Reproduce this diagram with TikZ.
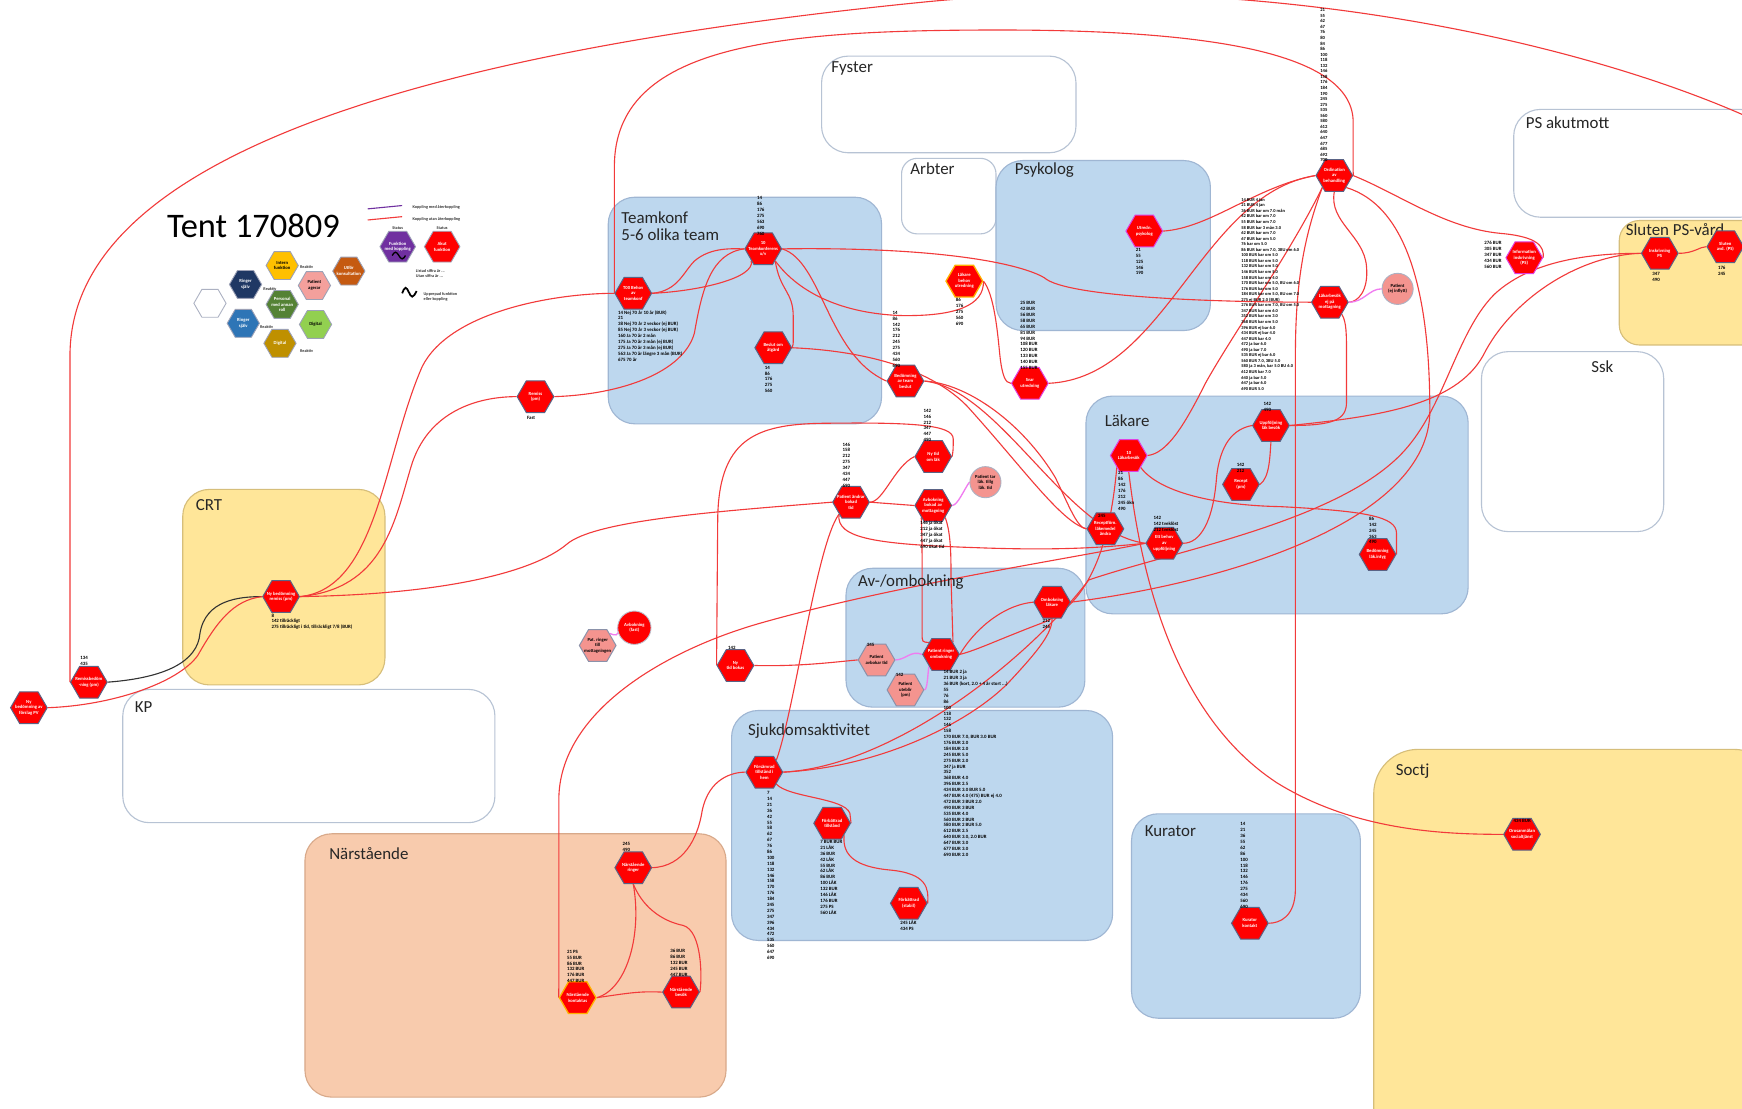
\documentclass[tikz,border=0pt]{standalone}
\usepackage{fontspec}
\setmainfont{Carlito}
\usetikzlibrary{shapes.geometric}
\definecolor{hred}{HTML}{FF0000}
\definecolor{hedge}{HTML}{5A6385}
\definecolor{lred}{HTML}{F23A3A}
\definecolor{bluefill}{HTML}{BDD7EE}
\definecolor{blueedge}{HTML}{9FB6D3}
\definecolor{yelfill}{HTML}{FFE699}
\definecolor{yeledge}{HTML}{D6BE7A}
\definecolor{peachfill}{HTML}{F8CBAD}
\definecolor{peachedge}{HTML}{D8A98A}
\definecolor{grayedge}{HTML}{B7C3D4}
\definecolor{salmon}{HTML}{F4948F}
\definecolor{pinkline}{HTML}{F07CF0}
\definecolor{pinkedge}{HTML}{E040E0}
\definecolor{orangeedge}{HTML}{FFB000}
\definecolor{lgnavy}{HTML}{1F3864}
\definecolor{lgyellow}{HTML}{FFC000}
\definecolor{lgsalmon}{HTML}{F4A09C}
\definecolor{lgorange}{HTML}{C55A11}
\definecolor{lggreen}{HTML}{548235}
\definecolor{lgblue}{HTML}{2E75B6}
\definecolor{lglime}{HTML}{92D050}
\definecolor{lggold}{HTML}{BF9000}
\definecolor{lgpurple}{HTML}{7030A0}
\pgfdeclarelayer{boxes}
\pgfdeclarelayer{wires}
\pgfsetlayers{boxes,wires,main}
\tikzset{
  area/.style={rectangle, rounded corners=12pt, anchor=north west, inner sep=0pt, line width=0.5pt},
  bluearea/.style={area, fill=bluefill, draw=blueedge},
  yelarea/.style={area, fill=yelfill, draw=yeledge},
  peacharea/.style={area, fill=peachfill, draw=peachedge},
  whitearea/.style={area, fill=white, draw=grayedge},
  arealab/.style={font=\fontsize{7.6}{9}\selectfont, text=black!85, anchor=west, inner sep=0pt, align=left},
  hexr/.style={regular polygon, regular polygon sides=6, minimum size=16.5pt, inner sep=0pt, fill=hred, draw=hedge, line width=0.45pt},
  hexpink/.style={hexr, draw=pinkedge},
  hexorange/.style={hexr, draw=orangeedge, line width=0.6pt},
  hexsal/.style={hexr, fill=salmon, draw=hedge!70},
  hexlg/.style={regular polygon, regular polygon sides=6, minimum size=14.5pt, inner sep=0pt, draw=hedge!60, line width=0.4pt},
  hlab/.style={font=\fontsize{2.1}{2.5}\selectfont\bfseries, text=white, align=center, inner sep=0pt},
  hlabk/.style={hlab, text=black},
  nums/.style={font=\fontsize{2.2}{2.65}\selectfont\bfseries, align=left, inner sep=0pt, text=black},
  bignums/.style={font=\fontsize{2.0}{2.5}\selectfont\bfseries, align=left, inner sep=0pt, text=black},
  link/.style={draw=lred, line width=0.5pt},
  blacklink/.style={draw=black!80, line width=0.5pt},
  pinklink/.style={draw=pinkline, line width=0.6pt},
  tinyk/.style={font=\fontsize{1.9}{2.3}\selectfont\bfseries, inner sep=0pt, align=left, text=black!80},
}
\begin{document}
\begin{tikzpicture}[x=0.5pt,y=-0.5pt]
\useasboundingbox (0,0) rectangle (1568,998);

% ---------------- areas ----------------
\begin{pgfonlayer}{boxes}
\fill[white] (0,0) rectangle (1568,998);
\node[whitearea, minimum width=114.5pt, minimum height=43.5pt] (fyster) at (739,50) {};
\node[whitearea, minimum width=114pt, minimum height=48.5pt] (psakut) at (1362,98) {};
\node[whitearea, rounded corners=7pt, minimum width=42.5pt, minimum height=34pt] (arbter) at (811,142) {};
\node[bluearea, minimum width=96.5pt, minimum height=76.5pt] (psykolog) at (896,144) {};
\node[bluearea, minimum width=123pt, minimum height=102pt] (teamkonf) at (547,177) {};
\node[yelarea, rounded corners=9pt, minimum width=71.5pt, minimum height=56pt] (sluten) at (1457,198) {};
\node[whitearea, minimum width=82pt, minimum height=81pt] (ssk) at (1333,316) {};
\node[bluearea, minimum width=172pt, minimum height=98pt] (lakare) at (977,356) {};
\node[yelarea, minimum width=91pt, minimum height=88pt] (crt) at (164,440) {};
\node[whitearea, minimum width=167.5pt, minimum height=60pt] (kp) at (110,620) {};
\node[bluearea, minimum width=107.5pt, minimum height=62.5pt] (avomb) at (761,511) {};
\node[bluearea, minimum width=171.5pt, minimum height=103.5pt] (sjukdom) at (658,639) {};
\node[bluearea, minimum width=103pt, minimum height=92pt] (kurator) at (1018,732) {};
\node[peacharea, minimum width=189.5pt, minimum height=118.5pt] (narst) at (274,750) {};
\node[yelarea, rounded corners=20pt, minimum width=182pt, minimum height=183pt] (soctj) at (1236,674) {};
\end{pgfonlayer}

\node[arealab] (fysterL) at (748,62) {Fyster};
\node[arealab] (psakutL) at (1373,110) {PS akutmott};
\node[arealab] (arbterL) at (819,152) {Arbter};
\node[arealab] (psykologL) at (913,153) {Psykolog};
\node[arealab] (teamkonfL) at (559,196) {Teamkonf};
\node[arealab] (teamkonfL2) at (559,211) {5-6 olika team};
\node[arealab] (slutenL) at (1463,207) {Sluten PS-vård};
\node[arealab] (sskL) at (1432,330) {Ssk};
\node[arealab] (lakareL) at (994,379) {Läkare};
\node[arealab] (crtL) at (176,455) {CRT};
\node[arealab] (kpL) at (121,636) {KP};
\node[arealab] (avombL) at (772,524) {Av-/ombokning};
\node[arealab] (sjukdomL) at (673,658) {Sjukdomsaktivitet};
\node[arealab] (kuratorL) at (1030,748) {Kurator};
\node[arealab] (narstL) at (296,768) {Närstående};
\node[arealab] (soctjL) at (1256,694) {Soctj};

% ---------------- title and legend ----------------
\node[font=\fontsize{15.5}{18}\selectfont, anchor=west, inner sep=0pt] (title) at (150,203) {Tent 170809};

\coordinate (lgA1) at (331,188); \coordinate (lgA2) at (362,185);
\coordinate (lgB1) at (331,198); \coordinate (lgB2) at (362,195);
\draw[draw=lgpurple, line width=0.5pt] (lgA1) -- (lgA2);
\draw[link] (lgB1) -- (lgB2);
\node[tinyk, anchor=west] (lgAt) at (371,187) {Koppling med återkoppling};
\node[tinyk, anchor=west] (lgBt) at (371,197) {Koppling utan återkoppling};
\node[tinyk] (lgst1) at (358,205) {Status};
\node[tinyk] (lgst2) at (398,205) {Status};
\node[hexlg, minimum size=16pt, fill=lgpurple, label={[hlab]center:{Funktion\\med koppling}}] (lgpur) at (358,222) {};
\node[hexlg, minimum size=16pt, fill=hred, label={[hlab]center:{Akut\\funktion}}] (lgred) at (398,222) {};
\draw[black, line width=0.6pt] (353,230) sin (356,227) cos (359,230) sin (362,233) cos (365,230);
\node[tinyk, anchor=west] (lgt1) at (374,246) {Listad siffra är ...\\Utan siffra är ...};
\draw[black, line width=0.8pt] (362,264) sin (365,259) cos (368,263) sin (371,267) cos (375,262);
\node[tinyk, anchor=west] (lgt2) at (381,267) {Upprepad funktion\\eller koppling};

\node[hexlg, fill=white, draw=hedge!50] (lgw) at (189,273) {};
\node[hexlg, fill=lgnavy, label={[hlab]center:{Ringer\\själv}}] (lgn) at (221,256) {};
\node[hexlg, fill=lgyellow, label={[hlabk]center:{Intern\\funktion}}] (lgy) at (254,239) {};
\node[hexlg, fill=lgsalmon, label={[hlabk]center:{Patient\\agerar}}] (lgs) at (283,257) {};
\node[hexlg, fill=lgorange, label={[hlab]center:{Utför\\konsultation}}] (lgo) at (314,244) {};
\node[hexlg, fill=lggreen, label={[hlab]center:{Personal\\med annan\\roll}}] (lgg) at (254,274) {};
\node[hexlg, fill=lgblue, label={[hlab]center:{Ringer\\själv}}] (lgb) at (219,291) {};
\node[hexlg, fill=lglime, label={[hlabk]center:{Digital}}] (lgl) at (284,292) {};
\node[hexlg, fill=lggold, label={[hlab]center:{Digital}}] (lgd) at (252,309) {};
\node[tinyk] (lgr1) at (276,240) {Reaktiv};
\node[tinyk] (lgr2) at (243,260) {Reaktiv};
\node[tinyk] (lgr3) at (240,294) {Reaktiv};
\node[tinyk] (lgr4) at (276,316) {Reaktiv};

% ---------------- functions ----------------
\node[hexr, label={[hlab]center:{10\\Teamkonferens\\x/v}}] (h1) at (687,224) {};
\node[hexr, label={[hlab]center:{T00 Behov\\av\\teamkonf}}] (h2) at (570,264) {};
\node[hexr, label={[hlab]center:{Beslut om\\åtgärd}}] (h3) at (696,313) {};
\node[hexr, label={[hlab]center:{Bedömning\\av team\\beslut}}] (h4) at (815,343) {};
\node[hexr, label={[hlab]center:{Remiss\\(pm)}}] (h5) at (482,357) {};
\node[hexpink, label={[hlab]center:{Utredn.\\psykolog}}] (h6) at (1030,208) {};
\node[hexpink, label={[hlab]center:{Svar\\utredning}}] (h7) at (927,345) {};
\node[hexorange, label={[hlab]center:{Läkare\\behov\\utredning}}] (h8) at (868,253) {};
\node[hexr, label={[hlab]center:{Ordination\\av\\behandling}}] (h9) at (1201,158) {};
\node[hexr, label={[hlab]center:{Läkarbesök\\ej på\\mottagning}}] (h10) at (1197,272) {};
\node[circle, fill=salmon, draw=hedge!50, line width=0.4pt, minimum size=14pt, inner sep=0pt, label={[hlabk]center:{Patient\\(ej inflytt)}}] (h11) at (1258,260) {};
\node[hexpink, label={[hlab]center:{Information\\inskrivning\\(PS)}}] (h12) at (1372,232) {};
\node[hexr, label={[hlab]center:{Inskrivning\\PS}}] (h13) at (1494,228) {};
\node[hexr, label={[hlab]center:{Sluten\\avd. (PS)}}] (h14) at (1553,222) {};
\node[hexr, label={[hlab]center:{Uppföljning\\läk besök}}] (h15) at (1144,383) {};
\node[hexpink, label={[hlab]center:{10\\Läkarbesök}}] (h16) at (1016,410) {};
\node[hexr, label={[hlab]center:{Recept\\(pm)}}] (h17) at (1117,436) {};
\node[hexr, label={[hlab]center:{Receptförn.\\läkemedel\\ändra}}] (h18) at (995,476) {};
\node[hexr, label={[hlab]center:{Ett behov\\av\\uppföljning}}] (h19) at (1048,489) {};
\node[hexr, label={[hlab]center:{Bedömning\\läk.intyg}}] (h20) at (1240,499) {};
\node[hexr, label={[hlab]center:{Ny tid\\om läk}}] (h21) at (840,411) {};
\node[hexr, label={[hlab]center:{Patient ändrar\\bokad\\tid}}] (h22) at (766,452) {};
\node[hexr, label={[hlab]center:{Avbokning\\bokad av\\mottagning}}] (h23) at (840,455) {};
\node[circle, fill=salmon, draw=hedge!50, line width=0.4pt, minimum size=14pt, inner sep=0pt, label={[hlabk]center:{Patient tar\\läk. tillg\\läk. tid}}] (h24) at (887,434) {};
\node[hexr, label={[hlab]center:{Ombokning\\läkare}}] (h25) at (947,542) {};
\node[hexr, label={[hlab]center:{Patient ringer\\ombokning}}] (h26) at (847,589) {};
\node[hexsal, label={[hlabk]center:{Patient\\avbokar tid}}] (h27) at (789,594) {};
\node[hexsal, label={[hlabk]center:{Patient\\uteblir\\(pm)}}] (h28) at (815,621) {};
\node[hexr, label={[hlab]center:{Ny\\tid bokas}}] (h29) at (662,599) {};
\node[circle, fill=hred, draw=hedge!40, line width=0.4pt, minimum size=15pt, inner sep=0pt, label={[hlab]center:{Avbokning\\(fast)}}] (h30) at (571,565) {};
\node[hexsal, label={[hlabk]center:{Pat. ringer\\till\\mottagningen}}] (h31) at (538,581) {};
\node[hexr, label={[hlab]center:{Ny bedömning\\remiss (pm)}}] (h32) at (253,537) {};
\node[hexr, label={[hlab]center:{Remissbedöm\\-ning (pm)}}] (h33) at (80,614) {};
\node[hexr, label={[hlab]center:{Ny\\bedömning av\\förslag PV}}] (h34) at (26,637) {};
\node[hexr, label={[hlab]center:{Försämrad\\tillstånd i\\hem}}] (h35) at (688,695) {};
\node[hexr, label={[hlab]center:{Förbättrad\\tillstånd}}] (h36) at (749,741) {};
\node[hexr, label={[hlab]center:{Förbättrad\\(stabil)}}] (h37) at (818,813) {};
\node[hexr, label={[hlab]center:{Närstående\\ringer}}] (h38) at (570,781) {};
\node[hexorange, label={[hlab]center:{Närstående\\kontaktas}}] (h39) at (520,898) {};
\node[hexr, label={[hlab]center:{Närstående\\besök}}] (h40) at (613,893) {};
\node[hexr, label={[hlab]center:{Kurator\\kontakt}}] (h41) at (1125,831) {};
\node[hexr, label={[hlab]center:{Orosanmälan\\socialtjänst}}] (h42) at (1370,751) {};

\coordinate (arcend) at (1592,114);

% ---------------- connectors ----------------
\begin{pgfonlayer}{wires}
% long arcs over the top
\draw[link] (h33.west) .. controls (63,612) and (63,605) .. (63,590) -- (63,320) .. controls (63,150) and (350,50) .. (830,2) .. controls (1150,-30) and (1450,45) .. (arcend);
\draw[link] (h2.west) .. controls (553,264) and (553,258) .. (553,245) -- (553,150) .. controls (553,40) and (700,27) .. (900,27) .. controls (1100,27) and (1218,50) .. (1218,110) -- (1218,140) .. controls (1218,150) .. (h9.east);
% CRT
\draw[blacklink] (h33.east) .. controls (150,610) and (178,595) .. (180,570) .. controls (185,540) and (215,537) .. (h32.west);
\draw[link] (h34.east) .. controls (100,635) and (160,615) .. (178,590) .. controls (195,560) and (210,540) .. (h32.west);
\draw[link] (h32.east) .. controls (340,530) and (345,410) .. (380,330) .. controls (405,280) and (500,264) .. (h2.west);
\draw[link] (h32.east) .. controls (345,530) and (355,470) .. (370,420) .. controls (385,370) and (430,357) .. (h5.west);
\draw[link] (h32.east) .. controls (400,535) and (480,515) .. (510,490) .. controls (535,468) and (650,460) .. (h22.west);
% Teamkonf
\draw[link] (h5.east) .. controls (560,355) and (615,335) .. (625,300) .. controls (632,260) and (640,228) .. (h1.west);
\draw[link] (h2.east) .. controls (610,262) and (615,245) .. (625,235) .. controls (640,222) and (660,224) .. (h1.west);
\draw[link] (h2.east) .. controls (630,262) and (680,250) .. (h1.south west);
\draw[link] (h1.east) .. controls (850,222) and (920,238) .. (940,250) .. controls (960,268) and (1100,272) .. (h10.west);
\draw[link] (h1.south east) .. controls (702,262) and (714,262) .. (714,285) -- (714,305) .. controls (714,310) .. (h3.east);
\draw[link] (h1.east) .. controls (740,235) and (745,320) .. (h4.west);
\draw[link] (h1.south east) .. controls (720,265) and (760,282) .. (810,284) .. controls (860,285) and (886,275) .. (h8.east);
\draw[link] (h3.east) .. controls (760,315) and (830,325) .. (870,365) .. controls (920,420) and (955,470) .. (h18.west);
\draw[link] (h8.east) .. controls (895,265) and (898,300) .. (900,320) .. controls (902,338) and (905,345) .. (h7.west);
% from the treatment order
\draw[link] (h9.west) .. controls (1130,168) and (1090,205) .. (h6.east);
\draw[link] (h9.west) .. controls (1080,175) and (1050,340) .. (h7.east);
\draw[link] (h9.south) .. controls (1196,200) and (1228,212) .. (1230,240) .. controls (1232,262) and (1222,272) .. (h10.east);
\draw[link] (h9.south west) .. controls (1175,210) and (1166,250) .. (1166,320) -- (1166,800) .. controls (1166,825) and (1152,831) .. (h41.east);
\draw[link] (h9.south east) .. controls (1265,185) and (1287,260) .. (1287,370) .. controls (1287,470) and (1100,525) .. (h25.east);
\draw[link] (h9.east) .. controls (1260,175) and (1300,205) .. (1350,210) .. controls (1385,213) and (1390,222) .. (h12.east);
\draw[link] (h9.south west) .. controls (1160,230) and (1110,300) .. (1085,345) .. controls (1065,385) and (1050,408) .. (h16.east);
\draw[pinklink] (h10.east) .. controls (1228,272) and (1232,260) .. (h11.west);
\draw[link] (h10.south east) .. controls (1212,290) and (1212,300) .. (1212,320) -- (1212,362) .. controls (1212,378) and (1200,383) .. (h15.east);
% Läkare
\draw[link] (h15.south) .. controls (1143,410) and (1143,430) .. (h17.east);
\draw[link] (h15.west) .. controls (1110,386) and (1098,400) .. (1095,430) .. controls (1092,470) and (1080,489) .. (h19.east);
\draw[link] (h15.east) .. controls (1240,375) and (1310,365) .. (1335,320) .. controls (1360,270) and (1420,230) .. (h13.west);
\draw[link] (h13.east) .. controls (1525,228) and (1530,222) .. (h14.west);
\draw[link] (h16.south east) .. controls (1045,445) and (1100,455) .. (1152,456) .. controls (1230,460) and (1257,465) .. (1257,480) .. controls (1257,492) .. (h20.east);
\draw[link] (h16.south) .. controls (1025,500) and (1050,640) .. (1150,705) .. controls (1220,748) and (1300,751) .. (h42.west);
\draw[link] (h16.south west) .. controls (1000,480) and (985,540) .. (940,560) .. controls (900,575) and (880,585) .. (h26.east);
\draw[link] (h4.east) .. controls (870,345) and (920,380) .. (950,430) .. controls (962,455) and (970,476) .. (h18.west);
\draw[link] (h4.east) .. controls (900,350) and (960,480) .. (h19.west);
% booking
\draw[link] (h22.east) .. controls (795,452) and (805,420) .. (h21.west);
\draw[link] (h22.east) -- (h23.west);
\draw[link] (h22.south west) .. controls (752,485) and (790,490) .. (880,493) .. controls (960,496) and (1000,492) .. (h19.west);
\draw[pinklink] (h23.east) .. controls (862,455) and (868,440) .. (h24.west);
\draw[link] (h23.south west) .. controls (830,480) and (830,500) .. (830,530) -- (830,570) .. controls (830,578) .. (h26.north west);
\draw[link] (h23.south east) .. controls (856,480) and (856,500) .. (856,520) -- (h26.north east);
\draw[link] (h29.west) -- (646,470) .. controls (646,395) and (680,382) .. (740,381) .. controls (820,380) and (858,382) .. (858,395) .. controls (858,405) .. (h21.east);
\draw[link] (h29.east) .. controls (720,600) and (750,596) .. (h27.west);
\draw[pinklink] (h27.east) .. controls (815,594) and (820,585) .. (h26.west);
\draw[pinklink] (h28.east) .. controls (835,621) and (835,605) .. (h26.south west);
\draw[pinklink] (h31.north east) .. controls (560,575) and (556,565) .. (h30.west);
\draw[link] (h25.west) .. controls (900,545) and (875,570) .. (h26.east);
% disease activity
\draw[link] (h35.north east) .. controls (715,640) and (735,490) .. (h22.south west);
\draw[link] (h35.east) .. controls (800,690) and (880,645) .. (910,612) .. controls (935,585) and (947,570) .. (h25.south);
\draw[link] (h35.east) .. controls (800,690) and (920,600) .. (980,522) .. controls (1060,495) and (1200,470) .. (1260,410) .. controls (1300,370) and (1310,300) .. (1345,265) .. controls (1380,232) and (1440,228) .. (h13.west);
\draw[link] (h35.south east) .. controls (710,718) and (760,718) .. (765,732) .. controls (766,737) .. (h36.east);
\draw[link] (h36.south east) .. controls (758,770) and (770,780) .. (800,783) .. controls (835,786) and (836,800) .. (h37.east);
% relatives
\draw[link] (h38.east) .. controls (615,780) and (628,755) .. (632,730) .. controls (638,700) and (660,695) .. (h35.west);
\draw[link] (h38.south) .. controls (578,840) and (565,890) .. (h39.east);
\draw[link] (h38.south) .. controls (580,820) and (600,830) .. (615,833) .. controls (632,838) and (632,880) .. (h40.east);
\draw[link] (h39.east) .. controls (565,894) and (575,892) .. (h40.west);
\draw[link] (h39.west) .. controls (503,898) and (503,890) .. (503,870) -- (503,720) .. controls (503,640) and (600,585) .. (684,561) .. controls (800,528) and (950,505) .. (h19.west);
\end{pgfonlayer}

% ---------------- number lists ----------------
\node[nums, anchor=south west] (n1) at (681,212) {14\\86\\176\\275\\563\\690\\760};
\node[nums, anchor=north west] (n2) at (556,279) {14 Nej 70 år 10 år (BUR)\\21\\38 Nej 70 år 2 veckor (ej BUR)\\85 Nej 70 år 3 veckor (ej BUR)\\160 Ja 70 år 2 mån\\175 Ja 70 år 3 mån (ej BUR)\\275 Ja 70 år 3 mån (ej BUR)\\563 Ja 70 år längre 3 mån (BUR)\\675 70 år};
\node[nums, anchor=north west] (n3) at (688,329) {14\\86\\176\\275\\560};
\node[nums, anchor=south west] (n4) at (803,331) {14\\86\\142\\176\\212\\245\\275\\434\\560\\690};
\node[nums, anchor=north west] (n5) at (474,374) {Fast};
\node[nums, anchor=north west] (n6) at (1022,223) {21\\55\\125\\146\\190};
\node[nums, anchor=south west] (n7) at (918,333) {25 BUR\\42 BUR\\56 BUR\\58 BUR\\65 BUR\\81 BUR\\94 BUR\\108 BUR\\120 BUR\\133 BUR\\140 BUR\\155 BUR};
\node[nums, anchor=north west] (n8) at (860,268) {86\\176\\275\\560\\690};
\node[nums, font=\fontsize{2.1}{2.5}\selectfont\bfseries, anchor=south west] (n9) at (1188,146) {21\\55\\62\\67\\76\\80\\84\\86\\100\\118\\132\\146\\158\\176\\184\\190\\245\\275\\535\\560\\580\\612\\640\\647\\677\\685\\692\\700};
\node[bignums, anchor=north west] (n10) at (1117,178) {14 BUR 4 jan\\21 BUR 4 jan\\36 BUR bar om 7.0 mån\\42 BUR bar om 7.0\\55 BUR bar om 7.0\\58 BUR bar 3 mån 3.0\\62 BUR bar om 7.0\\67 BUR bar om 5.0\\76 bar om 5.0\\86 BUR bar om 7.0, 3BU om 6.0\\100 BUR bar om 5.0\\118 BUR bar om 5.0\\132 BUR bar om 5.0\\146 BUR bar om 5.0\\158 BUR bar om 4.0\\170 BUR bar om 5.0, BU om 6.0\\176 BUR bar om 5.0\\184 BUR bar om 5.0, BU om 7.0\\275 ej BUR 2.0 (BUR)\\276 BUR bar om 7.0, BU om 5.0\\347 BUR bar om 6.0\\352 BUR bar om 3.0\\368 BUR bar om 5.0\\396 BUR ej bar 6.0\\434 BUR ej bar 4.0\\447 BUR bar 4.0\\472 ja bar 6.0\\490 ja bar 7.0\\535 BUR ej bar 6.0\\560 BUR 7.0, 3BU 5.0\\580 ja 3 mån, bar 5.0 BU 6.0\\612 BUR bar 7.0\\640 ja bar 5.0\\647 ja bar 6.0\\690 BUR 5.0};
\node[nums, anchor=north east] (n12) at (1352,217) {276 BUR\\305 BUR\\347 BUR\\434 BUR\\560 BUR};
\node[nums, anchor=north west] (n13) at (1487,245) {347\\490};
\node[nums, anchor=north west] (n14) at (1546,239) {176\\245};
\node[nums, anchor=south west] (n15) at (1137,371) {142\\490};
\node[nums, anchor=north west] (n16) at (1006,424) {21\\86\\142\\176\\212\\245 ökn\\490};
\node[nums, anchor=south west] (n17) at (1113,426) {142\\212};
\node[nums, anchor=south west] (n18) at (988,466) {245};
\node[nums, anchor=south west] (n19) at (1038,479) {142\\142 tveklöst\\212 tveklöst};
\node[nums, anchor=south west] (n20) at (1232,490) {86\\142\\245\\363\\490};
\node[nums, anchor=south west] (n21) at (831,398) {142\\146\\212\\347\\447\\490};
\node[nums, anchor=south west] (n22) at (758,439) {146\\158\\212\\275\\347\\434\\447\\690};
\node[nums, anchor=north west] (n23) at (828,469) {146 ja ökat\\212 ja ökat\\347 ja ökat\\447 ja ökat\\690 ökat tid};
\node[nums, anchor=north west] (n25) at (938,557) {212\\245};
\node[nums, anchor=north west] (n26) at (849,603) {14 BUR 2 ja\\21 BUR 3 ja\\36 BUR (kort, 2.0 + 4 år stort ...)\\55\\76\\86\\100\\118\\132\\146\\158\\170 BUR 7.0, BUR 3.0 BUR\\176 BUR 2.0\\184 BUR 2.0\\245 BUR 5.0\\275 BUR 2.0\\347 ja BUR\\352\\368 BUR 4.0\\396 BUR 2.5\\434 BUR 3.0 BUR 5.0\\447 BUR 4.0 (475) BUR ej 4.0\\472 BUR 3 BUR 2.0\\490 BUR 3 BUR\\535 BUR 4.0\\560 BUR 2 BUR\\580 BUR 2 BUR 5.0\\612 BUR 2.5\\640 BUR 3.0, 2.0 BUR\\647 BUR 3.0\\677 BUR 3.0\\690 BUR 2.0};
\node[nums, anchor=south west] (n27) at (780,582) {245};
\node[nums, anchor=south west] (n28) at (806,609) {142};
\node[nums, anchor=south west] (n29) at (655,585) {142};
\node[nums, anchor=north west] (n32) at (244,552) {8\\142 tillräckligt\\275 tillräckligt i tid, tillräckligt 7/8 (BUR)};
\node[nums, anchor=south west] (n33) at (72,599) {134\\435};
\node[nums, anchor=north west] (n35) at (690,712) {7\\14\\21\\36\\42\\55\\58\\62\\67\\76\\86\\100\\118\\132\\146\\158\\170\\176\\184\\245\\275\\347\\396\\434\\472\\535\\560\\647\\690};
\node[nums, anchor=north west] (n36) at (738,756) {7 BUR BUR\\21 LÅK\\36 BUR\\42 LÅK\\55 BUR\\62 LÅK\\86 BUR\\100 LÅK\\132 BUR\\146 LÅK\\176 BUR\\275 PS\\560 LÅK};
\node[nums, anchor=north west] (n37) at (810,828) {245 LÅK\\434 PS};
\node[nums, anchor=south west] (n38) at (560,767) {245\\490};
\node[nums, anchor=south west] (n39) at (510,885) {21 PS\\55 BUR\\86 BUR\\132 BUR\\176 BUR\\447 BUR};
\node[nums, anchor=south west] (n40) at (603,879) {36 BUR\\86 BUR\\132 BUR\\245 BUR\\447 BUR};
\node[nums, anchor=south west] (n41) at (1116,818) {14\\21\\36\\55\\62\\86\\100\\118\\132\\146\\176\\275\\434\\560\\690};
\node[nums, anchor=south west] (n42) at (1362,741) {434 BUR};
\end{tikzpicture}
\end{document}
